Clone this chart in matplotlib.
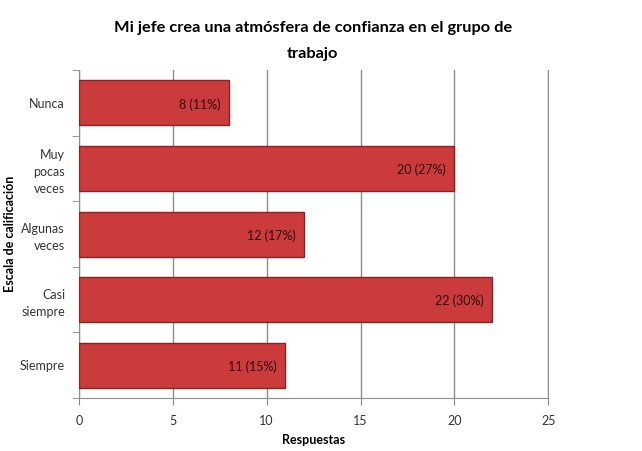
import matplotlib.pyplot as plt
import numpy as np

plt.rcParams['font.family'] = ['Lato', 'DejaVu Sans']

categorias = ['Nunca', 'Muy\npocas\nveces', 'Algunas\nveces', 'Casi\nsiempre', 'Siempre']
respuestas = [8, 20, 12, 22, 11]
porcentajes = ['11%', '27%', '17%', '30%', '15%']

fig = plt.figure(figsize=(6.42, 4.51), dpi=100)
ax = fig.add_axes([0.123, 0.1175, 0.731, 0.727])

y = np.arange(len(categorias))
bars = ax.barh(y, respuestas, height=0.685, color='#cc3b3b', edgecolor='#8a2222',
               linewidth=1.0, zorder=3)

for yi, v, p in zip(y, respuestas, porcentajes):
    ax.text(v - 0.45, yi + 0.02, f'{v} ({p})', ha='right', va='center',
            fontsize=9, color='#2a0a0a', zorder=4)

ax.set_xlim(0, 25)
ax.set_ylim(len(categorias) - 0.5, -0.5)
ax.set_xticks(range(0, 26, 5))
ax.set_yticks(y)
ax.set_yticklabels(categorias, fontsize=9, color='#333333', linespacing=1.5)
ax.set_yticks(np.arange(-0.5, len(categorias)), minor=True)
ax.tick_params(axis='y', which='major', length=0, pad=10)
ax.tick_params(axis='y', which='minor', length=5, color='#888888', direction='out')
ax.tick_params(axis='x', length=5, color='#888888', labelsize=9, labelcolor='#333333', pad=7)

ax.grid(axis='x', color='#8c8c8c', linewidth=1.0, zorder=0)
ax.spines['top'].set_visible(False)
for s in ['left', 'bottom', 'right']:
    ax.spines[s].set_color('#8c8c8c')

ax.set_xlabel('Respuestas', fontsize=9, fontweight='bold', labelpad=5)
fig.text(0.016, 0.481, 'Escala de calificación', rotation=90, fontsize=9,
         fontweight='bold', ha='center', va='center')

fig.text(0.487, 0.953, 'Mi jefe crea una atmósfera de confianza en el grupo de\ntrabajo',
         ha='center', va='top', fontsize=11.8, fontweight='bold', linespacing=2.05)

fig.savefig('out.png', dpi=100)
